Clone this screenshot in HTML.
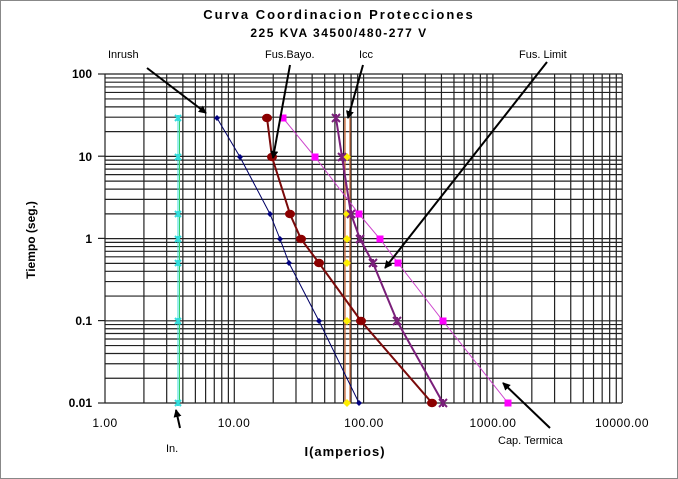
<!DOCTYPE html>
<html><head><meta charset="utf-8"><style>
html,body{margin:0;padding:0;background:#fff;}
svg{display:block;font-family:"Liberation Sans",sans-serif;}
</style></head><body>
<svg id="s" width="678" height="479" viewBox="0 0 678 479" xmlns="http://www.w3.org/2000/svg">
<rect x="0.5" y="0.5" width="677" height="478" fill="#fff" stroke="#888"/>
<g id="grid" stroke="#222" stroke-width="1.2"></g>
<defs><marker id="ah" markerWidth="8" markerHeight="8" refX="7" refY="4" orient="auto" markerUnits="userSpaceOnUse"><path d="M0,0 L16,4 L0,8 z" transform="scale(0.5,1)" fill="#000"/></marker></defs>
<g id="ser"></g>
<text x="339" y="19" text-anchor="middle" font-size="13" font-weight="bold" letter-spacing="2">Curva Coordinacion Protecciones</text>
<text x="339" y="37" text-anchor="middle" font-size="12" font-weight="bold" letter-spacing="1.5">225 KVA 34500/480-277 V</text>
<g font-size="12" font-weight="bold" text-anchor="end">
<text x="92" y="78">100</text><text x="92" y="161">10</text><text x="92" y="243">1</text><text x="92" y="325">0.1</text><text x="92" y="407">0.01</text></g>
<g font-size="12" text-anchor="middle" letter-spacing="0.5">
<text x="105" y="427">1.00</text><text x="234" y="427">10.00</text><text x="364" y="427">100.00</text><text x="493" y="427">1000.00</text><text x="622" y="427">10000.00</text></g>
<text x="345" y="456" text-anchor="middle" font-size="13" font-weight="bold" letter-spacing="1">I(amperios)</text>
<text transform="translate(35,240) rotate(-90)" text-anchor="middle" font-size="12" font-weight="bold">Tiempo (seg.)</text>
<g font-size="11">
<text x="108" y="58">Inrush</text><text x="265" y="58">Fus.Bayo.</text><text x="359" y="58">Icc</text><text x="519" y="58">Fus. Limit</text><text x="166" y="452">In.</text><text x="498" y="444">Cap. Termica</text></g>
<g stroke="#000" stroke-width="2" fill="none">
<line x1="147" y1="68" x2="206" y2="113" marker-end="url(#ah)"/>
<line x1="290" y1="65" x2="273" y2="158" marker-end="url(#ah)"/>
<line x1="363" y1="65" x2="348" y2="118" marker-end="url(#ah)"/>
<line x1="547" y1="62" x2="385" y2="268" marker-end="url(#ah)"/>
<line x1="180" y1="428" x2="176" y2="410" marker-end="url(#ah)"/>
<line x1="550" y1="428" x2="503" y2="383" marker-end="url(#ah)"/>
</g>
</svg>
<script>
var NS="http://www.w3.org/2000/svg",g=document.getElementById("grid"),S=document.getElementById("ser");
function X(v){return 105+129.3*Math.log10(v);}function Y(v){return 403-82.2*(Math.log10(v)+2);}
function ln(a,b,c,d,p){var l=document.createElementNS(NS,"line");l.setAttribute("x1",a);l.setAttribute("y1",b);l.setAttribute("x2",c);l.setAttribute("y2",d);for(var k in p)l.setAttribute(k,p[k]);(p.par||g).appendChild(l);return l;}
for(var d=0;d<4;d++)for(var m=1;m<10;m++){var x=X(Math.pow(10,d)*m);ln(x,74,x,403,{});}
ln(X(10000),74,X(10000),403,{});
for(var d=-2;d<2;d++)for(var m=1;m<10;m++){var y=Y(Math.pow(10,d))-82.2*Math.log10(m);ln(105,y,622,y,{});}
ln(105,74,622,74,{});
[74,156.2,238.4,320.6,403].forEach(function(y){ln(98,y,105,y,{});});
function poly(pts,col,w){var p=document.createElementNS(NS,"polyline");p.setAttribute("points",pts.map(function(a){return a.join(",")}).join(" "));p.setAttribute("fill","none");p.setAttribute("stroke",col);p.setAttribute("stroke-width",w);S.appendChild(p);}
function mk(pts,col,type,r){pts.forEach(function(a){var e;if(type=="c"){e=document.createElementNS(NS,"ellipse");e.setAttribute("cx",a[0]);e.setAttribute("cy",a[1]);e.setAttribute("rx",r);e.setAttribute("ry",r*0.85);e.setAttribute("fill",col);}else if(type=="s"){e=document.createElementNS(NS,"rect");e.setAttribute("x",a[0]-r);e.setAttribute("y",a[1]-r);e.setAttribute("width",2*r);e.setAttribute("height",2*r);e.setAttribute("fill",col);}else if(type=="d"){e=document.createElementNS(NS,"path");e.setAttribute("d","M"+a[0]+","+(a[1]-r)+"l"+r+","+r+"l-"+r+","+r+"l-"+r+",-"+r+"z");e.setAttribute("fill",col);}else{e=document.createElementNS(NS,"path");e.setAttribute("d","M"+(a[0]-r)+","+(a[1]-r)+"L"+(a[0]+r)+","+(a[1]+r)+"M"+(a[0]+r)+","+(a[1]-r)+"L"+(a[0]-r)+","+(a[1]+r)+"M"+a[0]+","+(a[1]-r)+"L"+a[0]+","+(a[1]+r));e.setAttribute("stroke",col);e.setAttribute("stroke-width",2);}S.appendChild(e);});}
var ys=[118,157,214,239,263,321,403];
var inn=ys.map(function(y){return[178,y]});
ln(179.5,118,179.5,403,{stroke:"#33cc66","stroke-width":1,par:S});poly(inn,"#33dddd",1);mk(inn,"#33dddd","x",3);
var icc=[[347,157],[347,214],[347,239],[347,263],[347,321],[347,403]];
ln(345,118,345,403,{stroke:"#cc6633","stroke-width":1.2,par:S});ln(350,118,350,403,{stroke:"#cc6633","stroke-width":1.2,par:S});
mk(icc,"#ffee00","d",4);
var inr=[[217,118],[240,157],[270,214],[280,239],[289,263],[319,321],[359,403]];poly(inr,"#000066",1);mk(inr,"#000080","d",3);
var cap=[[283,118],[315,157],[359,214],[380,239],[398,263],[443,321],[508,403]];poly(cap,"#cc44cc",1);mk(cap,"#ff00ff","s",3.5);
var lim=[[336,118],[342,157],[351,214],[360,239],[373,263],[397,321],[443,403]];poly(lim,"#7a1f7a",2);mk(lim,"#7a1f7a","x",4);
var bay=[[267,118],[272,157],[290,214],[301,239],[319,263],[361,321],[432,403]];poly(bay,"#7a0a0a",2);mk(bay,"#8b0000","c",5);
</script>
</body></html>
